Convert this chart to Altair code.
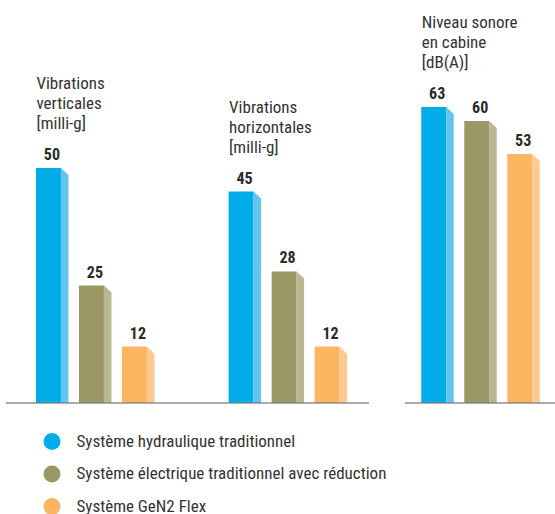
import altair as alt
import pandas as pd

# ---- data ----
group_titles = [
    "Vibrations\nverticales\n[milli-g]",
    "Vibrations\nhorizontales\n[milli-g]",
    "Niveau sonore\nen cabine\n[dB(A)]",
]
series = [
    "Système hydraulique traditionnel",
    "Système électrique traditionnel avec réduction",
    "Système GeN2 Flex",
]
values = [
    [50, 25, 12],
    [45, 28, 12],
    [63, 60, 53],
]
face_colors = ["#00ADE8", "#9C9866", "#FDB562"]
side_colors = ["#63C4EE", "#B8B792", "#FECA8F"]

# ---- layout constants (in scale units) ----
GROUP_STEP = 4.48   # distance between groups (bar-slot units)
FACE_W = 0.58       # front face width
SIDE_W = 0.175      # side face width
SLANT = 1.5         # drop of the side top (value units)
LABEL_DX = 0.37
FONT = "Roboto Condensed, Liberation Sans Narrow, Arial Narrow, Roboto, sans-serif"

bars, sides, titles = [], [], []
for g, vals in enumerate(values):
    for b, v in enumerate(vals):
        left = g * GROUP_STEP + b
        right = left + FACE_W
        bars.append(dict(id=f"{g}-{b}", series=series[b], value=v,
                         left=left, right=right, lx=left + LABEL_DX, zero=0))
        sides.append(dict(id=f"{g}-{b}", series=series[b], x=right, y=v, y2=0))
        sides.append(dict(id=f"{g}-{b}", series=series[b], x=right + SIDE_W, y=v - SLANT, y2=0))
    titles.append(dict(text=group_titles[g], x=g * GROUP_STEP + 0.01, y=max(vals)))

segments = pd.DataFrame([
    dict(x=0 * GROUP_STEP - 0.70, x2=1 * GROUP_STEP + 2 + FACE_W + SIDE_W + 0.51, y=0),
    dict(x=2 * GROUP_STEP - 0.38, x2=12.1, y=0),
])

bars = pd.DataFrame(bars)
sides = pd.DataFrame(sides)
titles = pd.DataFrame(titles)

xs = alt.Scale(domain=[-36 / 43, (555 - 36) / 43], nice=False, zero=False)
ys = alt.Scale(domain=[-111 / 4.7, 403 / 4.7], nice=False, zero=False)

face = alt.Chart(bars).mark_bar(cornerRadius=0).encode(
    x=alt.X("left:Q", scale=xs, axis=None),
    x2="right:Q",
    y=alt.Y("value:Q", scale=ys, axis=None),
    y2="zero:Q",
    color=alt.Color(
        "series:N",
        scale=alt.Scale(domain=series, range=face_colors),
        sort=series,
        legend=alt.Legend(
            title=None, orient="none", legendX=43.5, legendY=433,
            symbolType="circle", symbolSize=289, symbolStrokeWidth=0,
            labelFont=FONT, labelFontSize=17, labelColor="#333333",
            labelOffset=16, rowPadding=14.5, padding=0, labelLimit=400,
        ),
    ),
)

side = alt.Chart(sides).mark_area(interpolate="linear").encode(
    x=alt.X("x:Q", scale=xs, axis=None),
    y=alt.Y("y:Q", scale=ys, axis=None),
    y2="y2:Q",
    detail="id:N",
    color=alt.Color("series:N", scale=alt.Scale(domain=series, range=side_colors), legend=None),
)

labels = alt.Chart(bars).mark_text(
    font=FONT, fontSize=16, fontWeight="bold", color="#2a2a2a",
    align="center", baseline="alphabetic", dy=-8,
).encode(
    x=alt.X("lx:Q", scale=xs, axis=None),
    y=alt.Y("value:Q", scale=ys, axis=None),
    text="value:Q",
)

heads = alt.Chart(titles).mark_text(
    font=FONT, fontSize=17, color="#333333", align="left",
    baseline="alphabetic", dy=-79, lineBreak="\n", lineHeight=20,
).encode(
    x=alt.X("x:Q", scale=xs, axis=None),
    y=alt.Y("y:Q", scale=ys, axis=None),
    text="text:N",
)

base = alt.Chart(segments).mark_rule(color="#7a7a7a", strokeWidth=1.5, opacity=0.85).encode(
    x=alt.X("x:Q", scale=xs, axis=None),
    x2="x2:Q",
    y=alt.Y("y:Q", scale=ys, axis=None),
)

chart = alt.layer(face, side, labels, heads, base).resolve_scale(color="independent").properties(
    width=555, height=514, autosize=alt.AutoSizeParams(type="none"), padding=0,
).configure_view(stroke=None)

chart.save("out.html", embed_options={"renderer": "svg", "actions": False})
